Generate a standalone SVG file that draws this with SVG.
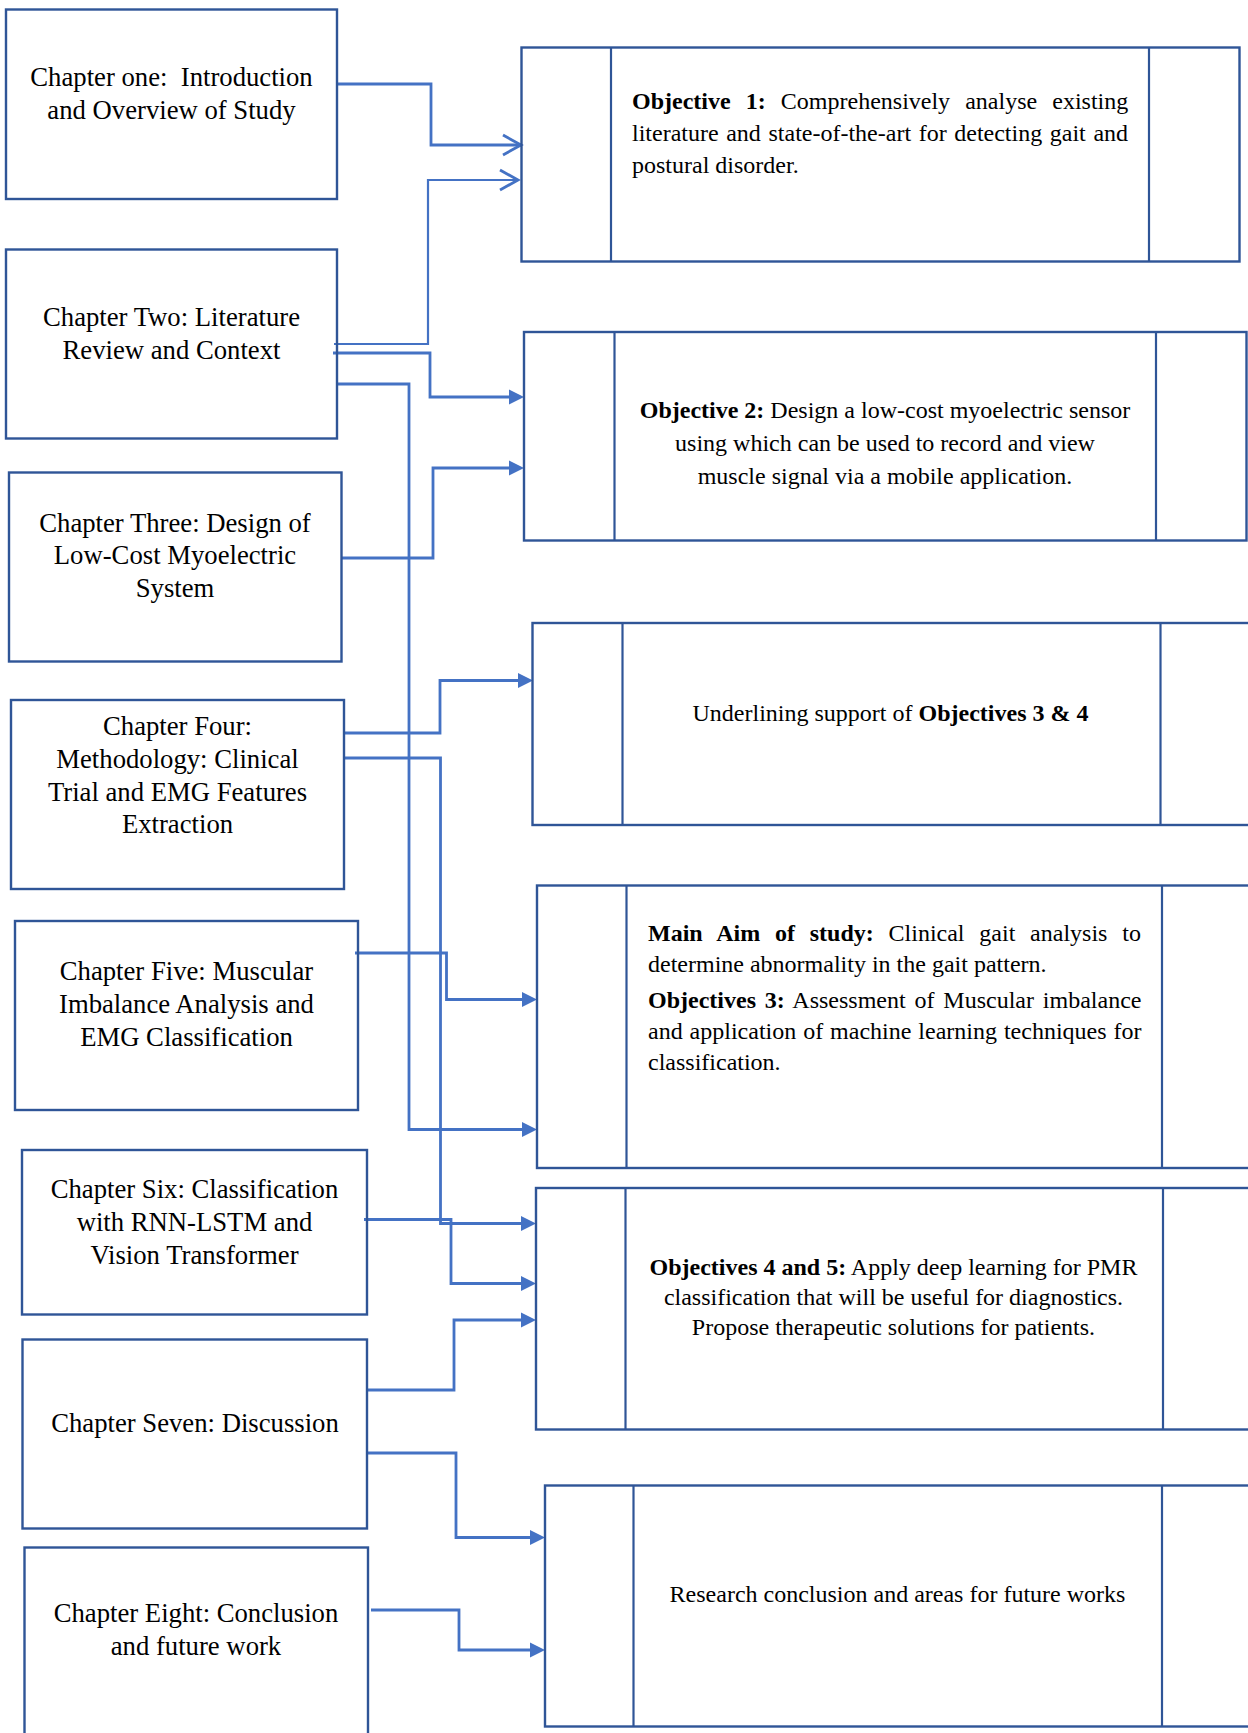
<svg xmlns="http://www.w3.org/2000/svg" width="1248" height="1733" viewBox="0 0 1248 1733">
<style>
  .box{fill:none;stroke:#2F5597;stroke-width:2.4}
  .div{stroke:#2F5597;stroke-width:2.2}
  .conn{fill:none;stroke:#4472C4;stroke-width:2.8}
  .ch{font-family:"Liberation Serif","Times New Roman",serif;font-size:26.7px;fill:#000;text-anchor:middle}
  .ob{font-family:"Liberation Serif","Times New Roman",serif;font-size:24px;fill:#000}
  .mid{text-anchor:middle}
  .b{font-weight:bold}
</style>
<defs>
  <marker id="tri" markerUnits="userSpaceOnUse" markerWidth="16" markerHeight="16" refX="9" refY="8" orient="auto" overflow="visible">
    <path d="M0,0.5 L15,8 L0,15.5 z" fill="#4472C4"/>
  </marker>
  <marker id="open" markerUnits="userSpaceOnUse" markerWidth="20" markerHeight="22" refX="18" refY="10" orient="auto" overflow="visible">
    <path d="M0,0 L18,10 L0,20" fill="none" stroke="#4472C4" stroke-width="2.8"/>
  </marker>
</defs>
<rect width="1248" height="1733" fill="#fff"/>

<g id="connectors">
  <path class="conn" d="M337,84 H431 V145 H521" marker-end="url(#open)"/>
  <path class="conn" style="stroke-width:2.2" d="M334,344 H428 V180 H518" marker-end="url(#open)"/>
  <path class="conn" d="M333,353 H430 V397 H518" marker-end="url(#tri)"/>
  <path class="conn" d="M337,384 H409 V1129.5 H531" marker-end="url(#tri)"/>
  <path class="conn" d="M341.5,558 H433 V468 H518" marker-end="url(#tri)"/>
  <path class="conn" d="M344,733 H440 V680.5 H527" marker-end="url(#tri)"/>
  <path class="conn" d="M344,758 H440.5 V1223.5 H530" marker-end="url(#tri)"/>
  <path class="conn" d="M355,953 H446.5 V999.5 H531" marker-end="url(#tri)"/>
  <path class="conn" d="M364,1219.5 H451 V1283.5 H530" marker-end="url(#tri)"/>
  <path class="conn" d="M368,1390 H454 V1320 H530" marker-end="url(#tri)"/>
  <path class="conn" d="M366,1453 H456 V1537.5 H539" marker-end="url(#tri)"/>
  <path class="conn" d="M371,1610 H459 V1650 H539" marker-end="url(#tri)"/>
</g>

<g id="ch1">
  <rect class="box" x="6" y="9.5" width="331" height="189.5"/>
  <text class="ch" x="171.5" y="86" xml:space="preserve">Chapter one:  Introduction</text>
  <text class="ch" x="171.5" y="118.5">and Overview of Study</text>
</g>
<g id="ch2">
  <rect class="box" x="6" y="249.5" width="331" height="189"/>
  <text class="ch" x="171.5" y="326">Chapter Two: Literature</text>
  <text class="ch" x="171.5" y="358.5">Review and Context</text>
</g>
<g id="ch3">
  <rect class="box" x="9" y="472.5" width="332.5" height="189"/>
  <text class="ch" x="175" y="531.5">Chapter Three: Design of</text>
  <text class="ch" x="175" y="564">Low-Cost Myoelectric</text>
  <text class="ch" x="175" y="596.5">System</text>
</g>
<g id="ch4">
  <rect class="box" x="11" y="700" width="333" height="189"/>
  <text class="ch" x="177.5" y="735">Chapter Four:</text>
  <text class="ch" x="177.5" y="768">Methodology: Clinical</text>
  <text class="ch" x="177.5" y="800.5">Trial and EMG Features</text>
  <text class="ch" x="177.5" y="833">Extraction</text>
</g>
<g id="ch5">
  <rect class="box" x="15" y="921" width="343" height="189"/>
  <text class="ch" x="186.5" y="980">Chapter Five: Muscular</text>
  <text class="ch" x="186.5" y="1013">Imbalance Analysis and</text>
  <text class="ch" x="186.5" y="1046">EMG Classification</text>
</g>
<g id="ch6">
  <rect class="box" x="22" y="1150" width="345" height="164.5"/>
  <text class="ch" x="194.5" y="1197.5">Chapter Six: Classification</text>
  <text class="ch" x="194.5" y="1231">with RNN-LSTM and</text>
  <text class="ch" x="194.5" y="1264">Vision Transformer</text>
</g>
<g id="ch7">
  <rect class="box" x="22.5" y="1339.5" width="344.5" height="189"/>
  <text class="ch" x="195" y="1432">Chapter Seven: Discussion</text>
</g>
<g id="ch8">
  <rect class="box" x="24.5" y="1547.5" width="343.5" height="220"/>
  <text class="ch" x="196" y="1622">Chapter Eight: Conclusion</text>
  <text class="ch" x="196" y="1654.5">and future work</text>
</g>

<g id="obj1">
  <rect class="box" x="521.5" y="47.5" width="718" height="214"/>
  <line class="div" x1="611" y1="47.5" x2="611" y2="261.5"/>
  <line class="div" x1="1149" y1="47.5" x2="1149" y2="261.5"/>
  <text class="ob" x="632" y="109" word-spacing="9.1"><tspan class="b">Objective 1:</tspan> Comprehensively analyse existing</text>
  <text class="ob" x="632" y="141" word-spacing="1.6">literature and state-of-the-art for detecting gait and</text>
  <text class="ob" x="632" y="173">postural disorder.</text>
</g>
<g id="obj2">
  <rect class="box" x="524" y="332" width="722.5" height="208.5"/>
  <line class="div" x1="614.5" y1="332" x2="614.5" y2="540.5"/>
  <line class="div" x1="1156" y1="332" x2="1156" y2="540.5"/>
  <text class="ob mid" x="885" y="418"><tspan class="b">Objective 2:</tspan> Design a low-cost myoelectric sensor</text>
  <text class="ob mid" x="885" y="450.5">using which can be used to record and view</text>
  <text class="ob mid" x="885" y="484">muscle signal via a mobile application.</text>
</g>
<g id="obj34">
  <rect class="box" x="532.5" y="623" width="740" height="202"/>
  <line class="div" x1="622.5" y1="623" x2="622.5" y2="825"/>
  <line class="div" x1="1160.5" y1="623" x2="1160.5" y2="825"/>
  <text class="ob mid" x="890.5" y="720.5">Underlining support of <tspan class="b">Objectives 3 &amp; 4</tspan></text>
</g>
<g id="mainaim">
  <rect class="box" x="537" y="885.5" width="740" height="282.5"/>
  <line class="div" x1="626.5" y1="885.5" x2="626.5" y2="1168"/>
  <line class="div" x1="1162" y1="885.5" x2="1162" y2="1168"/>
  <text class="ob" x="648" y="941" word-spacing="8.8"><tspan class="b">Main Aim of study:</tspan> Clinical gait analysis to</text>
  <text class="ob" x="648" y="972">determine abnormality in the gait pattern.</text>
  <text class="ob" x="648" y="1007.5" word-spacing="2.85"><tspan class="b">Objectives 3:</tspan> Assessment of Muscular imbalance</text>
  <text class="ob" x="648" y="1038.5" word-spacing="0.95">and application of machine learning techniques for</text>
  <text class="ob" x="648" y="1070">classification.</text>
</g>
<g id="obj45">
  <rect class="box" x="536" y="1188" width="740" height="241.5"/>
  <line class="div" x1="625.5" y1="1188" x2="625.5" y2="1429.5"/>
  <line class="div" x1="1163" y1="1188" x2="1163" y2="1429.5"/>
  <text class="ob mid" x="893.5" y="1275"><tspan class="b">Objectives 4 and 5:</tspan> Apply deep learning for PMR</text>
  <text class="ob mid" x="893.5" y="1305">classification that will be useful for diagnostics.</text>
  <text class="ob mid" x="893.5" y="1335">Propose therapeutic solutions for patients.</text>
</g>
<g id="research">
  <rect class="box" x="545" y="1485.5" width="740" height="241"/>
  <line class="div" x1="633.5" y1="1485.5" x2="633.5" y2="1726.5"/>
  <line class="div" x1="1162" y1="1485.5" x2="1162" y2="1726.5"/>
  <text class="ob mid" x="897.5" y="1602">Research conclusion and areas for future works</text>
</g>
</svg>
